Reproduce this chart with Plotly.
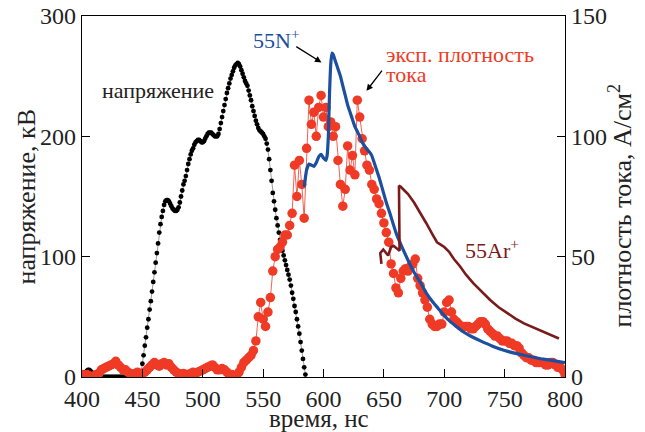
import plotly.graph_objects as go

# ---------------- data ----------------
# voltage (kV), 1 ns step from 400 to 585 ns
volt_t = list(range(400, 586))
volt_kV = [1, 2, 3, 4, 5, 6, 6, 5, 4, 3, 2, 1,
           0, 0, 0, 0, 0, 0, 0, 0, 0, 0, 0, 0, 0, 0, 0, 0, 0, 0,
           0, 0, 0, 0, 0, 0, 0, 0, 0, 0, 0, 0, 0, 0, 0, 0, 0, 0,
           0, 4, 11, 18, 26, 33, 41, 48, 56, 63,
           71, 79, 87, 95, 103, 111, 120, 127, 133, 138,
           143, 146, 147, 147, 146, 144, 142, 140, 139, 138,
           138, 139, 141, 145, 150, 155, 160, 163, 167, 172,
           177, 181, 185, 188, 190, 193,
           195, 196, 197, 197, 196, 195, 195, 196, 198, 200,
           202, 203, 203, 203, 202, 201, 200, 200, 200, 202,
           206, 211, 216, 221, 226, 231, 236, 240, 244, 248,
           251, 254, 257, 259, 260, 261,
           260, 258, 255, 252, 249, 246, 244, 242, 238, 234,
           230, 225, 221, 217, 213, 210, 207, 205, 204, 203,
           202, 200, 198, 194, 189, 181, 172, 163, 153, 146,
           139, 132, 126, 120, 114, 109, 105, 101, 97, 93,
           89, 85, 81, 76, 70, 65, 59, 54, 48, 42,
           36, 29, 22, 15, 8, 2]

# experimental current density (A/cm^2), 2 ns step from 400 to 800 ns
exp_t = list(range(400, 801, 2))
exp_j = [1, 0.5, 1, 0.5, 0, 0.5, 1, 1.5, 3, 3.5, 4, 4.5, 5, 5.5, 6.5, 5, 4, 3, 3, 2, 1.5, 1, 1.5, 2,
         1, 1.5, 2, 3, 4, 5, 6, 5, 4.5, 5.5, 6, 5, 5.5, 4, 3, 2, 1.5, 1, 1.5, 1, 1, 1.5, 2, 1.5, 2, 2.5,
         3, 3.5, 4, 4.5, 5, 4, 3, 3, 3.5, 3, 2, 1, 1, 0.5, 0.5, 2, 4, 6, 7, 8, 9, 11, 15, 25, 31,
         24, 21, 27, 33, 44, 50, 53, 54, 56, 59, 59, 63, 68, 88, 75, 90, 80, 66, 95, 115, 105, 110, 100, 112, 117,
         108, 112, 104, 106, 100, 104, 90, 80, 71, 78, 96, 86, 92, 84, 115, 108, 99, 94, 88, 86, 80, 78, 74, 72, 68,
         64, 60, 56, 47, 43, 37, 35, 41, 44, 45, 44, 46, 47, 49, 41, 38, 35, 32, 29, 24, 22, 21, 21, 22, 22,
         27, 31, 32, 27, 24, 23, 22, 21, 21, 21, 21, 20, 20, 21, 22, 23, 23, 22, 20, 19, 18, 17, 17, 16, 15,
         15, 15, 14, 14, 13, 13, 12, 10, 9, 8, 8, 7, 7, 6, 6, 6, 6, 5, 5, 6, 6, 5, 4, 4, 3, 1]

# simulated 55N+ (A/cm^2)
n_t = [584, 586, 588, 590, 592, 594, 596, 598, 600, 602, 603, 604, 605, 606, 607, 608, 610, 612, 614,
       616, 618, 620, 622, 624, 626, 628, 630, 632, 634, 636, 638, 640, 642, 644, 646, 648, 650, 652,
       655, 660, 665, 670, 675, 680, 685, 690, 695, 700, 705, 710, 715, 720, 725, 730, 740, 750, 760,
       770, 780, 790, 800]
n_j = [79, 86, 88.5, 88, 87.5, 89, 91.5, 92.5, 91, 90, 92, 100, 118, 130, 134.6, 134, 131, 128, 125,
       121, 117, 113, 110, 107, 104, 102, 100, 97.5, 96, 94.5, 93.5, 92, 89, 86, 83, 79.5, 76, 72.5,
       68, 60, 54, 48.5, 43.5, 39.5, 35, 31.5, 28.5, 25.5, 23, 21, 19, 17.5, 16.2, 15, 12.8, 11, 9.7,
       8.6, 7.6, 6.8, 6]

# simulated 55Ar+ (A/cm^2)
ar_t = [648, 647, 649.5, 651.5, 653.5, 656, 658, 660.5, 663, 662.5, 664, 667, 670, 675, 680, 685, 690,
        694, 697, 700, 704, 708, 713, 718, 724, 731, 738, 745, 752, 759, 766, 773, 780, 787, 795]
ar_j = [47, 51.5, 53, 51.5, 50.5, 54, 54.5, 53.5, 52.5, 79.5, 79, 77.5, 76, 72.5, 68.5, 64, 59.5,
        56, 55, 54, 52, 49, 46, 42.5, 39, 35.5, 32, 29, 26.5, 24.3, 22.3, 20.7, 19.4, 17.8, 16]

x_ticks = [400, 450, 500, 550, 600, 650, 700, 750, 800]
yl_ticks = [0, 100, 200, 300]
yr_ticks = [0, 50, 100, 150]

# ---------------- style ----------------
FONT = "Liberation Serif"
RED = "#ef3a26"
BLUE = "#1d4f9f"
BROWN = "#7a1b1b"
TXT = "#222222"

fig = go.Figure()
fig.add_trace(go.Scatter(x=exp_t, y=exp_j, yaxis="y2", mode="lines+markers",
                         line=dict(color=RED, width=0.8),
                         marker=dict(color=RED, size=9.5), showlegend=False))
fig.add_trace(go.Scatter(x=volt_t, y=volt_kV, mode="lines+markers",
                         line=dict(color="#555555", width=0.6),
                         marker=dict(color="black", size=4.8), showlegend=False))
fig.add_trace(go.Scatter(x=n_t, y=n_j, yaxis="y2", mode="lines",
                         line=dict(color=BLUE, width=3.2, shape="spline", smoothing=0.4),
                         showlegend=False))
fig.add_trace(go.Scatter(x=ar_t, y=ar_j, yaxis="y2", mode="lines",
                         line=dict(color=BROWN, width=2.6), showlegend=False))

axis_common = dict(showline=True, linecolor="black", linewidth=1.2, ticks="inside",
                   ticklen=8, tickwidth=1.2, tickcolor="black", showgrid=False, zeroline=False,
                   automargin=False,
                   tickfont=dict(family=FONT, size=24, color=TXT))

fig.update_layout(
    template="none",
    width=645, height=432, autosize=False,
    margin=dict(l=82, r=80, t=16, b=55, pad=0),
    paper_bgcolor="white", plot_bgcolor="white",
    xaxis=dict(range=[400, 800], tickvals=x_ticks, mirror=True, **axis_common),
    yaxis=dict(range=[0, 300], tickvals=yl_ticks, **axis_common),
    yaxis2=dict(range=[0, 150], tickvals=yr_ticks, overlaying="y", side="right", **axis_common),
    font=dict(family=FONT, color=TXT),
)

ann = []
# axis titles
ann.append(dict(text="время, нс", xref="paper", yref="paper", x=0.49, y=0, yanchor="middle",
                yshift=-41, showarrow=False, font=dict(family=FONT, size=25, color=TXT)))
ann.append(dict(text="напряжение, кВ", xref="paper", yref="paper", x=0, y=0.5, xanchor="center",
                yanchor="middle", xshift=-56, textangle=-90, showarrow=False,
                font=dict(family=FONT, size=26, color=TXT)))
ann.append(dict(text="плотность тока, А/см<sup>2</sup>", xref="paper", yref="paper", x=1, y=0.475,
                xanchor="center", yanchor="middle", xshift=56, textangle=-90, showarrow=False,
                font=dict(family=FONT, size=26, color=TXT)))
# labels
ann.append(dict(text="напряжение", x=462.6, y=238, xref="x", yref="y", showarrow=False,
                font=dict(family=FONT, size=22, color=TXT)))
ann.append(dict(text="55N<sup>+</sup>", x=561, y=281, xref="x", yref="y", showarrow=False,
                font=dict(family=FONT, size=22, color=BLUE)))
ann.append(dict(text="эксп. плотность", x=650.5, y=268, xref="x", yref="y", xanchor="left",
                showarrow=False, font=dict(family=FONT, size=22, color=RED)))
ann.append(dict(text="тока", x=650.5, y=251.5, xref="x", yref="y", xanchor="left",
                showarrow=False, font=dict(family=FONT, size=22, color=RED)))
ann.append(dict(text="55Ar<sup>+</sup>", x=739.5, y=106, xref="x", yref="y", showarrow=False,
                font=dict(family=FONT, size=22, color=BROWN)))
# arrows
ann.append(dict(x=598.3, y=261.4, ax=576.2, ay=275.3, xref="x", yref="y", axref="x", ayref="y",
                text="", showarrow=True, arrowhead=2, arrowsize=1, arrowwidth=1.3, arrowcolor="black"))
ann.append(dict(x=635.6, y=237.8, ax=649.4, ay=255.8, xref="x", yref="y", axref="x", ayref="y",
                text="", showarrow=True, arrowhead=2, arrowsize=1, arrowwidth=1.3, arrowcolor="black"))
fig.update_layout(annotations=ann)

fig.write_html("out.html", config={"displayModeBar": False},
               post_script="document.body.style.margin='0';")
